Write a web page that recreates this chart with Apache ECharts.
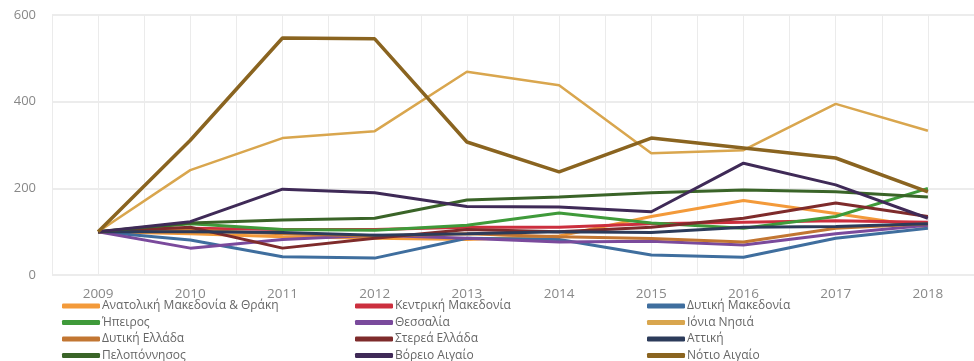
<!DOCTYPE html>
<html>
<head>
<meta charset="utf-8">
<script src="https://cdn.jsdelivr.net/npm/echarts@6/dist/echarts.min.js"></script>
<style>
  html, body { margin: 0; padding: 0; background: #ffffff; }
  #chart { width: 974px; height: 361px; }
</style>
</head>
<body>
<div id="chart"></div>
<script>
// Index of regional values (2009 = 100)
const years = [2009, 2010, 2011, 2012, 2013, 2014, 2015, 2016, 2017, 2018];
const yTicks = [0, 200, 400, 600];

const regionNames = [
  'Ανατολική Μακεδονία & Θράκη', 'Κεντρική Μακεδονία', 'Δυτική Μακεδονία',
  'Ήπειρος', 'Θεσσαλία', 'Ιόνια Νησιά',
  'Δυτική Ελλάδα', 'Στερεά Ελλάδα', 'Αττική',
  'Πελοπόννησος', 'Βόρειο Αιγαίο', 'Νότιο Αιγαίο'
];

const anatolikiMakedonia = [100, 95, 88, 85, 82, 90, 135, 172, 142, 110];
const kentrikiMakedonia  = [100, 108, 105, 105, 110, 110, 118, 122, 125, 122];
const dytikiMakedonia    = [100, 81, 42, 39, 85, 82, 46, 41, 85, 108];
const ipeiros            = [100, 118, 105, 103, 115, 143, 120, 108, 135, 200];
const thessalia          = [100, 62, 82, 92, 85, 76, 78, 69, 95, 115];
const ioniaNisia         = [100, 242, 316, 332, 469, 438, 281, 288, 395, 333];
const dytikiEllada       = [100, 104, 95, 90, 95, 88, 84, 76, 108, 118];
const stereaEllada       = [100, 110, 62, 85, 105, 100, 110, 131, 166, 135];
const attiki             = [100, 100, 98, 92, 95, 100, 98, 110, 112, 118];
const peloponnisos       = [100, 120, 127, 131, 173, 180, 190, 196, 192, 180];
const voreioAigaio       = [100, 123, 198, 190, 158, 157, 146, 258, 208, 131];
const notioAigaio        = [100, 311, 547, 545, 307, 238, 316, 293, 270, 192];

const seriesValues = [
  anatolikiMakedonia, kentrikiMakedonia, dytikiMakedonia,
  ipeiros, thessalia, ioniaNisia,
  dytikiEllada, stereaEllada, attiki,
  peloponnisos, voreioAigaio, notioAigaio
];

const colors = [
  '#f39a3a', '#cc2f3e', '#3f6e9e',
  '#3f9a3a', '#7a4a9c', '#d9a64e',
  '#c27632', '#7e2b2b', '#2c3b5a',
  '#3a6428', '#3f2a57', '#8a6420'
];
const widths = [3, 3, 3, 3, 3, 2.5, 3, 3, 3, 3, 3, 3.5];

const chart = echarts.init(document.getElementById('chart'), null, { renderer: 'canvas' });

const series = regionNames.map((name, i) => ({
  name: name,
  type: 'line',
  showSymbol: false,
  symbol: 'none',
  data: years.map((y, k) => [y, seriesValues[i][k]]),
  lineStyle: { width: widths[i], color: colors[i] },
  itemStyle: { color: colors[i] },
  z: 2
}));

// three legend columns, four entries each, filled row by row
function legendColumn(col, left) {
  return {
    orient: 'vertical',
    left: left,
    top: 295,
    height: 70,
    padding: 5,
    itemWidth: 38,
    itemHeight: 5,
    itemGap: 4.5,
    icon: 'roundRect',
    data: [0, 1, 2, 3].map(r => regionNames[r * 3 + col]),
    textStyle: {
      fontFamily: '"Open Sans", "Noto Sans", sans-serif',
      fontSize: 12,
      color: '#666',
      lineHeight: 12,
      padding: [0, 0, 0, -3]
    },
    selectedMode: false
  };
}

const labelFont = '"Open Sans", "Noto Sans", sans-serif';

chart.setOption({
  animation: false,
  color: colors,
  grid: { left: 52, right: -8, top: 15, bottom: 86 },
  legend: [legendColumn(0, 57), legendColumn(1, 350), legendColumn(2, 642)],
  xAxis: {
    type: 'value',
    min: 2008.5,
    max: 2018.5,
    interval: 0.5,
    axisLine: { show: false },
    axisTick: { show: false },
    splitLine: { show: true, lineStyle: { color: '#ebebeb', width: 1 } },
    axisLabel: {
      margin: 12,
      color: '#888',
      fontSize: 13.5,
      fontFamily: labelFont,
      formatter: v => (years.indexOf(v) >= 0 ? String(v) : ''),
      showMinLabel: false,
      showMaxLabel: false
    }
  },
  yAxis: {
    type: 'value',
    min: yTicks[0],
    max: yTicks[yTicks.length - 1],
    interval: 200,
    axisLine: { show: false },
    axisTick: { show: false },
    splitLine: { show: true, lineStyle: { color: '#e6e6e6', width: 1.5 } },
    axisLabel: {
      margin: 16,
      color: '#888',
      fontSize: 13,
      fontFamily: labelFont
    }
  },
  series: series
});
</script>
</body>
</html>
